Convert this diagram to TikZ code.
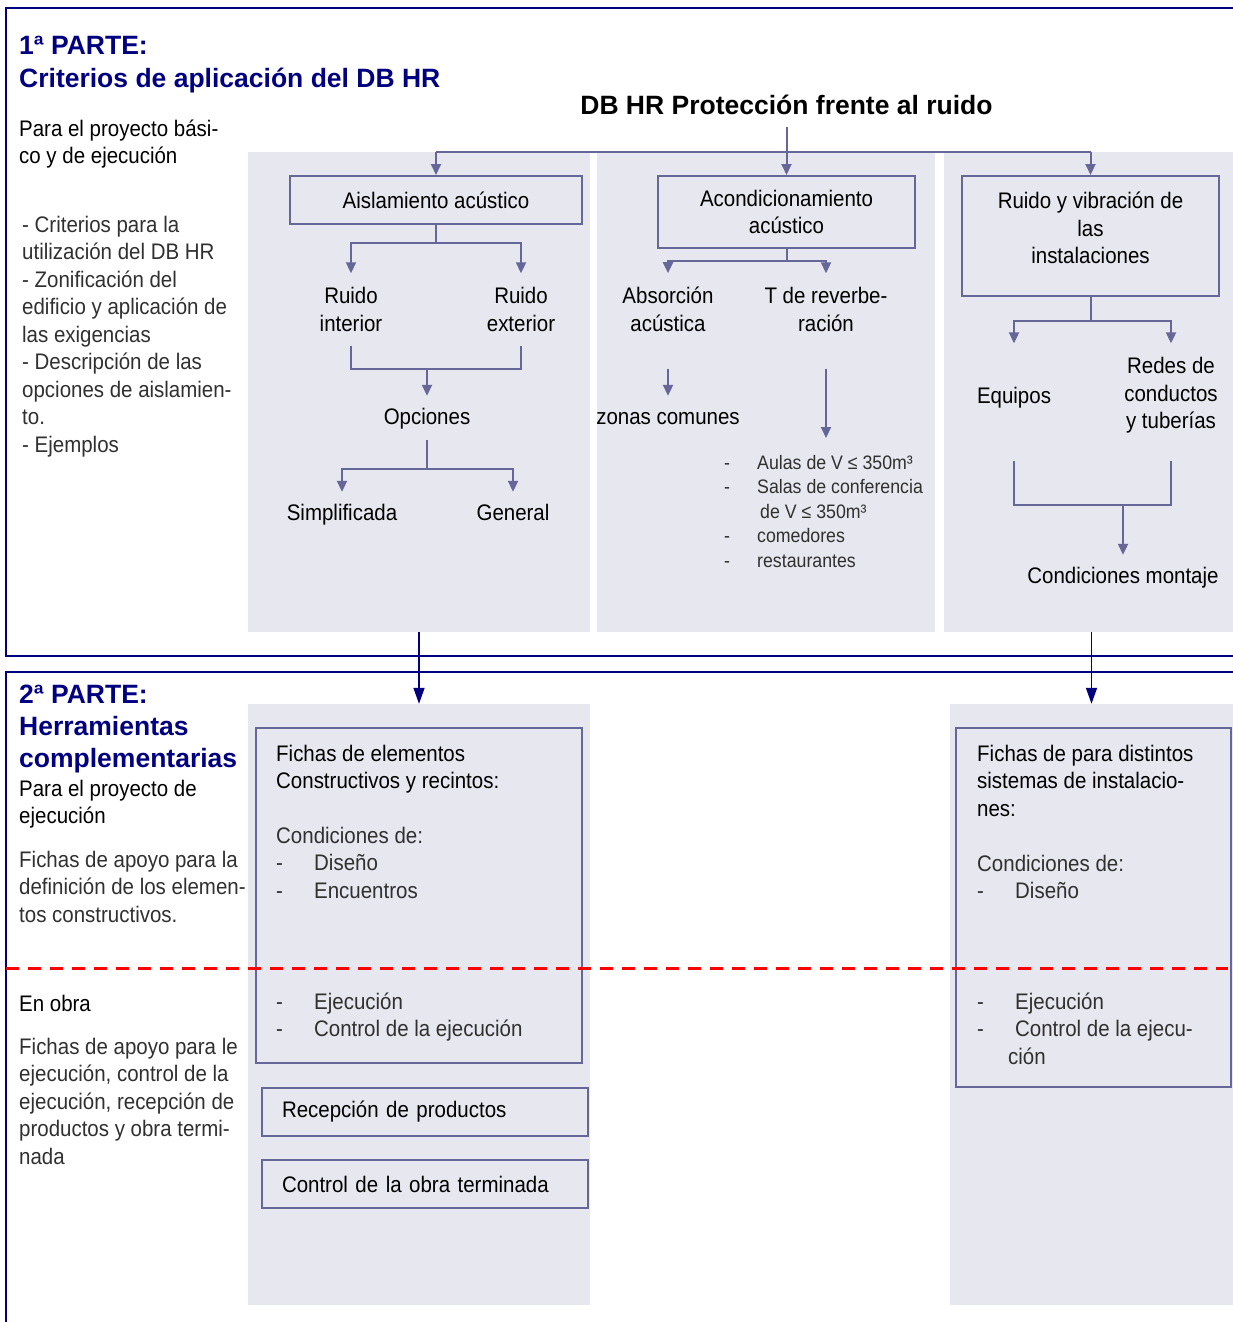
\documentclass[tikz,border=0pt]{standalone}
\usepackage{fontspec}
\setmainfont{Liberation Sans}[FakeStretch=0.91]
\newfontfamily\hfont{Liberation Sans}
\usetikzlibrary{arrows.meta}
\definecolor{hrnavy}{RGB}{0,0,128}
\definecolor{hrslate}{RGB}{102,102,153}
\definecolor{hrpanel}{RGB}{230,231,239}
\definecolor{hrgray}{RGB}{48,48,48}
\newcommand{\itm}[1]{\makebox[38pt][l]{-}#1}
\newcommand{\sitm}[1]{\makebox[33pt][l]{-}#1}

\begin{document}
\begin{tikzpicture}[x=1pt, y=-1pt,
  font=\fontsize{22.5}{27.5}\selectfont,
  panel/.style={fill=hrpanel, inner sep=0pt},
  box/.style={draw=hrslate, line width=2pt, inner sep=0pt, align=center},
  lbl/.style={align=center, inner xsep=2pt, inner ysep=14pt},
  lbl1/.style={align=center, inner xsep=2pt, inner ysep=11pt, text height=17pt, text depth=5pt},
  txt/.style={align=left, inner sep=0pt, anchor=north west},
  lst/.style={align=left, inner xsep=0pt, inner ysep=17pt, anchor=north west,
    font=\fontsize{19.5}{24.5}\selectfont, text=hrgray},
  head/.style={inner sep=0pt, anchor=base west, text=hrnavy,
    font={\fontsize{26.5}{32}\hfont\bfseries}},
  link/.style={draw=hrslate, line width=2pt},
  flow/.style={link, -{Triangle[length=11pt, width=10pt]}},
  bigflow/.style={draw=hrnavy, line width=1.5pt, -{Triangle[length=16pt, width=11pt]}},
  frame/.style={draw=hrnavy, line width=2pt},
  cut/.style={draw=red, line width=3pt, dash pattern=on 13pt off 9pt}]

  \path[use as bounding box, clip] (0,0) rectangle (1233,1322);

  % frames of the two parts
  \draw[frame] (1240,8) -| (6,656) -- (1240,656);
  \draw[frame] (1240,672) -| (6,1330);

  % shaded columns
  \node[panel, minimum width=342pt, minimum height=480pt] (pA) at (419,392) {};
  \node[panel, minimum width=338pt, minimum height=480pt] (pB) at (766,392) {};
  \node[panel, minimum width=289pt, minimum height=480pt] (pC) at (1088.5,392) {};
  \node[panel, minimum width=342pt, minimum height=601pt] (pD) at (419,1004.5) {};
  \node[panel, minimum width=283pt, minimum height=601pt] (pE) at (1091.5,1004.5) {};

  % 1a parte, left column
  \node[head] (p1) at (19,55) {1ª PARTE:};
  \node[head] (p1t) at (19,88) {Criterios de aplicación del DB HR};
  \node[txt] (proy1) at (19,119.5) {Para el proyecto bási-\\co y de ejecución};
  \node[txt, text=hrgray] (crit) at (22,215.5) {- Criterios para la\\utilización del DB HR\\- Zonificación del\\edificio y aplicación de\\las exigencias\\- Descripción de las\\opciones de aislamien-\\to.\\- Ejemplos};

  % 1a parte, tree
  \node[inner ysep=12pt, font={\fontsize{26.5}{32}\hfont\bfseries}] (dbhr) at (786.5,105) {DB HR Protección frente al ruido};
  \coordinate (bus) at (0,152);
  \node[box, minimum width=292pt, minimum height=48pt] (aisl) at (436,200) {Aislamiento acústico};
  \node[box, minimum width=257pt, minimum height=72pt] (acond) at (786.5,212) {Acondicionamiento\\acústico};
  \node[box, minimum width=257pt, minimum height=120pt, text depth=16pt] (inst) at (1090.5,236) {Ruido y vibración de\\las\\instalaciones};

  \node[lbl] (rint) at (351,309.5) {Ruido\\interior};
  \node[lbl] (rext) at (521,309.5) {Ruido\\exterior};
  \node[lbl1] (opc) at (427,418) {Opciones};
  \node[lbl1] (simp) at (342,514) {Simplificada};
  \node[lbl1] (gen) at (513,514) {General};

  \node[lbl] (abs) at (668,309.5) {Absorción\\acústica};
  \node[lbl] (trev) at (826,309.5) {T de reverbe-\\ración};
  \node[lbl1] (zon) at (668,418) {zonas comunes};
  \node[lst] (aulas) at (724,438) {\sitm{Aulas de V ≤ 350m³}\\\sitm{Salas de conferencia}\\\hspace*{36pt}de V ≤ 350m³\\\sitm{comedores}\\\sitm{restaurantes}};

  \node[lbl1] (equ) at (1014,397) {Equipos};
  \node[lbl] (red) at (1171,395.5) {Redes de\\conductos\\y tuberías};
  \node[lbl1] (mont) at (1123,577) {Condiciones montaje};

  \draw[link] (aisl.north |- bus) -- (inst.north |- bus);
  \draw[flow] (dbhr.south) -- (acond.north);
  \draw[flow] (aisl.north |- bus) -- (aisl.north);
  \draw[flow] (inst.north |- bus) -- (inst.north);
  \draw[flow] (aisl.south) -- ++(0,18) -| (rint.north);
  \draw[flow] (aisl.south) -- ++(0,18) -| (rext.north);
  \draw[link] (rint.south) -- ++(0,23) coordinate (jA) -| (rext.south);
  \draw[flow] (opc.north |- jA) -- (opc.north);
  \draw[flow] (opc.south) -- ++(0,29) -| (simp.north);
  \draw[flow] (opc.south) -- ++(0,29) -| (gen.north);
  \draw[flow] (acond.south) -- ++(0,12) -| (abs.north);
  \draw[flow] (acond.south) -- ++(0,12) -| (trev.north);
  \draw[flow] (abs.south) ++(0,23) -- (zon.north);
  \draw[flow] (trev.south) ++(0,23) -- (trev.south |- aulas.north);
  \draw[flow] (inst.south) -- ++(0,24) -| (equ.north |- red.north);
  \draw[flow] (inst.south) -- ++(0,24) -| (red.north);
  \draw[link] (red.south) ++(0,13) coordinate (r1) -- ++(0,44) coordinate (jC) -| (equ.south |- r1);
  \draw[flow] (mont.north |- jC) -- (mont.north);

  % from 1a to 2a parte
  \draw[bigflow] (pA.south) -- (pD.north);
  \draw[bigflow] (pE.north |- pC.south) -- (pE.north);

  % 2a parte, left column
  \node[head] (p2) at (19,703.5) {2ª PARTE:};
  \node[head] (p2a) at (19,735.5) {Herramientas};
  \node[head] (p2b) at (19,767.5) {complementarias};
  \node[txt] (proy2) at (19,779.5) {Para el proyecto de\\ejecución};
  \node[txt, text=hrgray] (apoyo1) at (19,850.5) {Fichas de apoyo para la\\definición de los elemen-\\tos constructivos.};
  \node[txt] (obra) at (19,994.5) {En obra};
  \node[txt, text=hrgray] (apoyo2) at (19,1037.5) {Fichas de apoyo para le\\ejecución, control de la\\ejecución, recepción de\\productos y obra termi-\\nada};

  % 2a parte, fichas
  \node[box, minimum width=326pt, minimum height=335pt] (fichA) at (419,895.5) {};
  \node[txt] (fichAt) at (276,744.5) {Fichas de elementos\\Constructivos y recintos:};
  \node[txt, text=hrgray] (condA) at (276,826.5) {Condiciones de:\\\itm{Diseño}\\\itm{Encuentros}};
  \node[txt, text=hrgray] (ejeA) at (276,992.5) {\itm{Ejecución}\\\itm{Control de la ejecución}};
  \node[box, minimum width=326pt, minimum height=48pt, text width=286pt, align=left] (recep) at (425,1112) {Recepción de productos};
  \node[box, minimum width=326pt, minimum height=48pt, text width=286pt, align=left] (ctrl) at (425,1184) {Control de la obra terminada};

  \node[box, minimum width=275pt, minimum height=359pt] (fichB) at (1093.5,907.5) {};
  \node[txt] (fichBt) at (977,744.5) {Fichas de para distintos\\sistemas de instalacio-\\nes:};
  \node[txt, text=hrgray] (condB) at (977,854.5) {Condiciones de:\\\itm{Diseño}};
  \node[txt, text=hrgray] (ejeB) at (977,992.5) {\itm{Ejecución}\\\itm{Control de la ejecu-}\\\hspace*{31pt}ción};

  % proyecto / obra
  \draw[cut] (6,968) -- (1228,968);
\end{tikzpicture}
\end{document}
